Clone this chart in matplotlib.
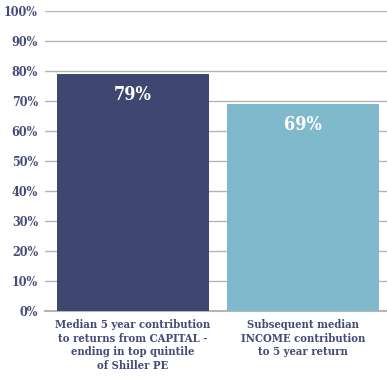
import matplotlib
matplotlib.use("Agg")
from matplotlib import pyplot as plt

categories = [
    "Median 5 year contribution\nto returns from CAPITAL -\nending in top quintile\nof Shiller PE",
    "Subsequent median\nINCOME contribution\nto 5 year return",
]
values = [79, 69]
colours = ["#3f466f", "#80b9cb"]
yticks = list(range(0, 101, 10))

text_colour = "#454b78"
serif = ["DejaVu Serif"]

fig = plt.figure(figsize=(3.87, 3.76), dpi=100)
ax = fig.add_axes([0.116, 0.173, 0.884, 0.798])

x = list(range(len(values)))
ax.bar(x, values, width=0.894, color=colours, zorder=3)

for xi, v in zip(x, values):
    ax.text(xi, v - 7, f"{v}%", ha="center", va="center", color="white",
            fontsize=13, fontweight="bold", family=serif, stretch="condensed",
            zorder=4)

ax.set_xlim(-0.518, 1.494)
ax.set_ylim(0, 100)
ax.set_yticks(yticks)
ax.set_yticklabels([f"{t}%" for t in yticks], family=serif, fontweight="bold",
                   fontsize=9, stretch="condensed", color=text_colour)
ax.set_xticks(x)
ax.set_xticklabels(categories, family=serif, fontweight="bold", fontsize=8.1,
                   stretch="condensed", color=text_colour, linespacing=1.27)

ax.grid(axis="y", color="#b5b5b5", linewidth=1, zorder=0)
ax.tick_params(axis="y", length=0, pad=5)
ax.tick_params(axis="x", length=0, pad=6)
for side in ["top", "right", "left"]:
    ax.spines[side].set_visible(False)
ax.spines["bottom"].set_color("#b5b5b5")
ax.spines["bottom"].set_linewidth(1.5)

fig.savefig("out.png", dpi=100)
